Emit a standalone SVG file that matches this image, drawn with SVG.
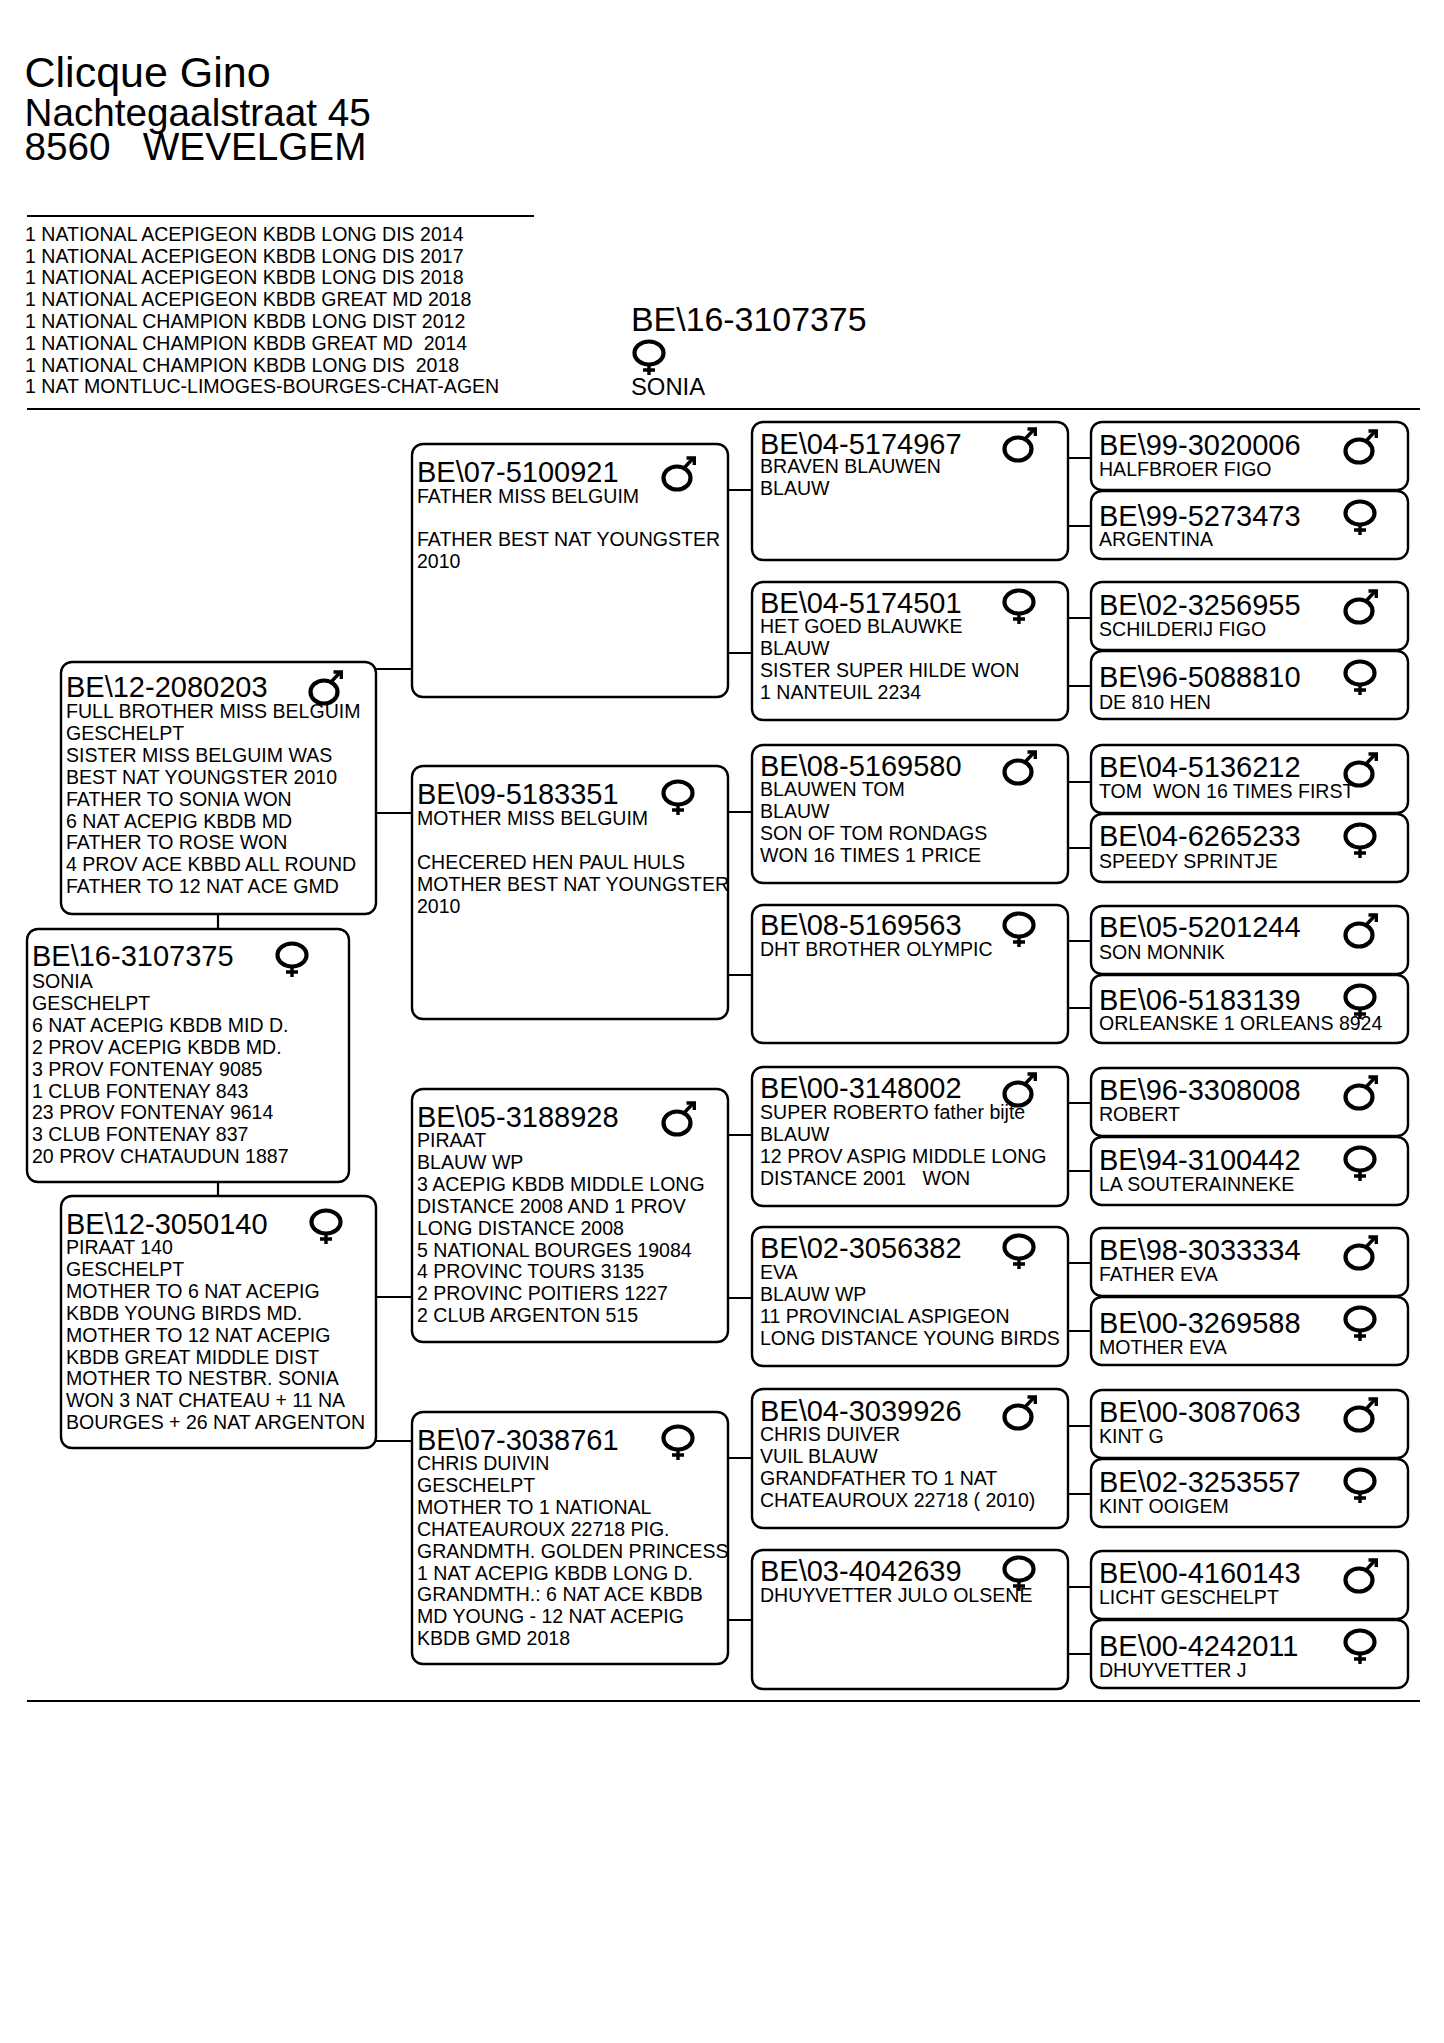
<svg xmlns="http://www.w3.org/2000/svg" width="1444" height="2043" viewBox="0 0 1444 2043">
<style>
text{font-family:"Liberation Sans",Arial,sans-serif;fill:#000;white-space:pre}
.box{fill:#fff;stroke:#000;stroke-width:2.4}
.id{font-size:29px}
.t{font-size:19.55px}
.l{font-size:19.55px}
.rule{stroke:#000;stroke-width:2.2;fill:none}
.c{stroke:#000;stroke-width:2.2;fill:none}
.s{fill:none;stroke:#000;stroke-width:4.2}
.s2{fill:none;stroke:#000;stroke-width:3.4}
</style>
<defs>
<g id="m"><ellipse class="s" rx="13.5" ry="11.5"/><path class="s2" d="M7 -10L16 -19.5"/><path class="s2" d="M9.5 -20H17.3V-13"/></g>
<g id="f"><ellipse class="s" rx="14.5" ry="11.5"/><path class="s2" d="M0 12V22M-6 17H6"/></g>
</defs>
<rect width="1444" height="2043" fill="#fff"/>
<g id="header">
<text x="24.5" y="87" font-size="43">Clicque Gino</text>
<text x="24.5" y="126" font-size="38.7">Nachtegaalstraat 45</text>
<text x="24.5" y="160" font-size="38.7">8560   WEVELGEM</text>
<path class="rule" d="M27 216H534M27 409H1420M27 1701H1420"/>
<text class="l" x="25" y="241">1 NATIONAL ACEPIGEON KBDB LONG DIS 2014</text>
<text class="l" x="25" y="262.5">1 NATIONAL ACEPIGEON KBDB LONG DIS 2017</text>
<text class="l" x="25" y="284">1 NATIONAL ACEPIGEON KBDB LONG DIS 2018</text>
<text class="l" x="25" y="306">1 NATIONAL ACEPIGEON KBDB GREAT MD 2018</text>
<text class="l" x="25" y="328">1 NATIONAL CHAMPION KBDB LONG DIST 2012</text>
<text class="l" x="25" y="350">1 NATIONAL CHAMPION KBDB GREAT MD  2014</text>
<text class="l" x="25" y="372">1 NATIONAL CHAMPION KBDB LONG DIS  2018</text>
<text class="l" x="25" y="393">1 NAT MONTLUC-LIMOGES-BOURGES-CHAT-AGEN</text>
<text x="631" y="331" font-size="33.9">BE\16-3107375</text>
<use href="#f" x="649" y="353"/>
<text x="631" y="395" font-size="23.8">SONIA</text>
</g>
<g id="connectors" class="c">
<path d="M218 915V929M218 1182V1196"/>
<path d="M376 669H412M376 813H412M376 1297H412M376 1441H412"/>
<path d="M727 490H752M727 653H752M727 812H752M727 975H752M727 1135H752M727 1298H752M727 1458H752M727 1620H752"/>
<path d="M1067 458H1091M1067 526H1091M1067 618H1091M1067 686H1091M1067 782H1091M1067 848H1091M1067 941H1091M1067 1008H1091M1067 1103H1091M1067 1171H1091M1067 1263H1091M1067 1331H1091M1067 1426H1091M1067 1494H1091M1067 1587H1091M1067 1654H1091"/>
</g>
<g id="n-subject" transform="translate(27,929)"><rect class="box" width="322" height="253" rx="11"/><text class="id" x="5" y="37">BE\16-3107375</text><use href="#f" x="265" y="26"/><text class="t" y="59"><tspan x="5">SONIA</tspan><tspan x="5" dy="21.9">GESCHELPT</tspan><tspan x="5" dy="21.9">6 NAT ACEPIG KBDB MID D.</tspan><tspan x="5" dy="21.9">2 PROV ACEPIG KBDB MD.</tspan><tspan x="5" dy="21.9">3 PROV FONTENAY 9085</tspan><tspan x="5" dy="21.9">1 CLUB FONTENAY 843</tspan><tspan x="5" dy="21.9">23 PROV FONTENAY 9614</tspan><tspan x="5" dy="21.9">3 CLUB FONTENAY 837</tspan><tspan x="5" dy="21.9">20 PROV CHATAUDUN 1887</tspan></text></g>
<g id="n-sire" transform="translate(61,662)"><rect class="box" width="315" height="252" rx="11"/><text class="id" x="5" y="35">BE\12-2080203</text><use href="#m" x="263" y="30"/><text class="t" y="56"><tspan x="5">FULL BROTHER MISS BELGUIM</tspan><tspan x="5" dy="21.9">GESCHELPT</tspan><tspan x="5" dy="21.9">SISTER MISS BELGUIM WAS</tspan><tspan x="5" dy="21.9">BEST NAT YOUNGSTER 2010</tspan><tspan x="5" dy="21.9">FATHER TO SONIA WON</tspan><tspan x="5" dy="21.9">6 NAT ACEPIG KBDB MD</tspan><tspan x="5" dy="21.9">FATHER TO ROSE WON</tspan><tspan x="5" dy="21.9">4 PROV ACE KBBD ALL ROUND</tspan><tspan x="5" dy="21.9">FATHER TO 12 NAT ACE GMD</tspan></text></g>
<g id="n-dam" transform="translate(61,1196)"><rect class="box" width="315" height="252" rx="11"/><text class="id" x="5" y="38">BE\12-3050140</text><use href="#f" x="265" y="26"/><text class="t" y="58"><tspan x="5">PIRAAT 140</tspan><tspan x="5" dy="21.9">GESCHELPT</tspan><tspan x="5" dy="21.9">MOTHER TO 6 NAT ACEPIG</tspan><tspan x="5" dy="21.9">KBDB YOUNG BIRDS MD.</tspan><tspan x="5" dy="21.9">MOTHER TO 12 NAT ACEPIG</tspan><tspan x="5" dy="21.9">KBDB GREAT MIDDLE DIST</tspan><tspan x="5" dy="21.9">MOTHER TO NESTBR. SONIA</tspan><tspan x="5" dy="21.9">WON 3 NAT CHATEAU + 11 NA</tspan><tspan x="5" dy="21.9">BOURGES + 26 NAT ARGENTON</tspan></text></g>
<g id="n-07-5100921" transform="translate(412,444)"><rect class="box" width="316" height="253" rx="11"/><text class="id" x="5" y="38">BE\07-5100921</text><use href="#m" x="265" y="34"/><text class="t" y="58.5"><tspan x="5">FATHER MISS BELGUIM</tspan><tspan x="5" dy="43.8">FATHER BEST NAT YOUNGSTER</tspan><tspan x="5" dy="21.9">2010</tspan></text></g>
<g id="n-09-5183351" transform="translate(412,766)"><rect class="box" width="316" height="253" rx="11"/><text class="id" x="5" y="38">BE\09-5183351</text><use href="#f" x="266" y="27"/><text class="t" y="59"><tspan x="5">MOTHER MISS BELGUIM</tspan><tspan x="5" dy="43.8">CHECERED HEN PAUL HULS</tspan><tspan x="5" dy="21.9">MOTHER BEST NAT YOUNGSTER</tspan><tspan x="5" dy="21.9">2010</tspan></text></g>
<g id="n-05-3188928" transform="translate(412,1089)"><rect class="box" width="316" height="253" rx="11"/><text class="id" x="5" y="38">BE\05-3188928</text><use href="#m" x="265" y="34"/><text class="t" y="58"><tspan x="5">PIRAAT</tspan><tspan x="5" dy="21.9">BLAUW WP</tspan><tspan x="5" dy="21.9">3 ACEPIG KBDB MIDDLE LONG</tspan><tspan x="5" dy="21.9">DISTANCE 2008 AND 1 PROV</tspan><tspan x="5" dy="21.9">LONG DISTANCE 2008</tspan><tspan x="5" dy="21.9">5 NATIONAL BOURGES 19084</tspan><tspan x="5" dy="21.9">4 PROVINC TOURS 3135</tspan><tspan x="5" dy="21.9">2 PROVINC POITIERS 1227</tspan><tspan x="5" dy="21.9">2 CLUB ARGENTON 515</tspan></text></g>
<g id="n-07-3038761" transform="translate(412,1412)"><rect class="box" width="316" height="252" rx="11"/><text class="id" x="5" y="38">BE\07-3038761</text><use href="#f" x="266" y="26"/><text class="t" y="58"><tspan x="5">CHRIS DUIVIN</tspan><tspan x="5" dy="21.9">GESCHELPT</tspan><tspan x="5" dy="21.9">MOTHER TO 1 NATIONAL</tspan><tspan x="5" dy="21.9">CHATEAUROUX 22718 PIG.</tspan><tspan x="5" dy="21.9">GRANDMTH. GOLDEN PRINCESS</tspan><tspan x="5" dy="21.9">1 NAT ACEPIG KBDB LONG D.</tspan><tspan x="5" dy="21.9">GRANDMTH.: 6 NAT ACE KBDB</tspan><tspan x="5" dy="21.9">MD YOUNG - 12 NAT ACEPIG</tspan><tspan x="5" dy="21.9">KBDB GMD 2018</tspan></text></g>
<g id="n-04-5174967" transform="translate(752,422)"><rect class="box" width="316" height="138" rx="11"/><text class="id" x="8" y="32">BE\04-5174967</text><use href="#m" x="266" y="27"/><text class="t" y="51"><tspan x="8">BRAVEN BLAUWEN</tspan><tspan x="8" dy="21.9">BLAUW</tspan></text></g>
<g id="n-04-5174501" transform="translate(752,582)"><rect class="box" width="316" height="138" rx="11"/><text class="id" x="8" y="31">BE\04-5174501</text><use href="#f" x="267" y="20"/><text class="t" y="51"><tspan x="8">HET GOED BLAUWKE</tspan><tspan x="8" dy="21.9">BLAUW</tspan><tspan x="8" dy="21.9">SISTER SUPER HILDE WON</tspan><tspan x="8" dy="21.9">1 NANTEUIL 2234</tspan></text></g>
<g id="n-08-5169580" transform="translate(752,745)"><rect class="box" width="316" height="138" rx="11"/><text class="id" x="8" y="31">BE\08-5169580</text><use href="#m" x="266" y="27"/><text class="t" y="51"><tspan x="8">BLAUWEN TOM</tspan><tspan x="8" dy="21.9">BLAUW</tspan><tspan x="8" dy="21.9">SON OF TOM RONDAGS</tspan><tspan x="8" dy="21.9">WON 16 TIMES 1 PRICE</tspan></text></g>
<g id="n-08-5169563" transform="translate(752,905)"><rect class="box" width="316" height="138" rx="11"/><text class="id" x="8" y="30">BE\08-5169563</text><use href="#f" x="267" y="20"/><text class="t" y="51"><tspan x="8">DHT BROTHER OLYMPIC</tspan></text></g>
<g id="n-00-3148002" transform="translate(752,1067)"><rect class="box" width="316" height="139" rx="11"/><text class="id" x="8" y="31">BE\00-3148002</text><use href="#m" x="266" y="27"/><text class="t" y="52"><tspan x="8">SUPER ROBERTO father bijte</tspan><tspan x="8" dy="21.9">BLAUW</tspan><tspan x="8" dy="21.9">12 PROV ASPIG MIDDLE LONG</tspan><tspan x="8" dy="21.9">DISTANCE 2001   WON</tspan></text></g>
<g id="n-02-3056382" transform="translate(752,1227)"><rect class="box" width="316" height="139" rx="11"/><text class="id" x="8" y="31">BE\02-3056382</text><use href="#f" x="267" y="20"/><text class="t" y="52"><tspan x="8">EVA</tspan><tspan x="8" dy="21.9">BLAUW WP</tspan><tspan x="8" dy="21.9">11 PROVINCIAL ASPIGEON</tspan><tspan x="8" dy="21.9">LONG DISTANCE YOUNG BIRDS</tspan></text></g>
<g id="n-04-3039926" transform="translate(752,1389)"><rect class="box" width="316" height="139" rx="11"/><text class="id" x="8" y="32">BE\04-3039926</text><use href="#m" x="266" y="28"/><text class="t" y="52"><tspan x="8">CHRIS DUIVER</tspan><tspan x="8" dy="21.9">VUIL BLAUW</tspan><tspan x="8" dy="21.9">GRANDFATHER TO 1 NAT</tspan><tspan x="8" dy="21.9">CHATEAUROUX 22718 ( 2010)</tspan></text></g>
<g id="n-03-4042639" transform="translate(752,1550)"><rect class="box" width="316" height="139" rx="11"/><text class="id" x="8" y="31">BE\03-4042639</text><use href="#f" x="267" y="19"/><text class="t" y="52"><tspan x="8">DHUYVETTER JULO OLSENE</tspan></text></g>
<g id="n-99-3020006" transform="translate(1091,422)"><rect class="box" width="317" height="68" rx="11"/><text class="id" x="8" y="33">BE\99-3020006</text><use href="#m" x="268" y="29"/><text class="t" x="8" y="54">HALFBROER FIGO</text></g>
<g id="n-99-5273473" transform="translate(1091,491)"><rect class="box" width="317" height="68" rx="11"/><text class="id" x="8" y="35">BE\99-5273473</text><use href="#f" x="269" y="22"/><text class="t" x="8" y="55">ARGENTINA</text></g>
<g id="n-02-3256955" transform="translate(1091,582)"><rect class="box" width="317" height="68" rx="11"/><text class="id" x="8" y="33">BE\02-3256955</text><use href="#m" x="268" y="29"/><text class="t" x="8" y="54">SCHILDERIJ FIGO</text></g>
<g id="n-96-5088810" transform="translate(1091,651)"><rect class="box" width="317" height="68" rx="11"/><text class="id" x="8" y="36">BE\96-5088810</text><use href="#f" x="269" y="22"/><text class="t" x="8" y="58">DE 810 HEN</text></g>
<g id="n-04-5136212" transform="translate(1091,745)"><rect class="box" width="317" height="68" rx="11"/><text class="id" x="8" y="32">BE\04-5136212</text><use href="#m" x="268" y="29"/><text class="t" x="8" y="53">TOM  WON 16 TIMES FIRST</text></g>
<g id="n-04-6265233" transform="translate(1091,814)"><rect class="box" width="317" height="68" rx="11"/><text class="id" x="8" y="32">BE\04-6265233</text><use href="#f" x="269" y="22"/><text class="t" x="8" y="54">SPEEDY SPRINTJE</text></g>
<g id="n-05-5201244" transform="translate(1091,906)"><rect class="box" width="317" height="68" rx="11"/><text class="id" x="8" y="31">BE\05-5201244</text><use href="#m" x="268" y="29"/><text class="t" x="8" y="53">SON MONNIK</text></g>
<g id="n-06-5183139" transform="translate(1091,975)"><rect class="box" width="317" height="68" rx="11"/><text class="id" x="8" y="35">BE\06-5183139</text><use href="#f" x="269" y="22"/><text class="t" x="8" y="55">ORLEANSKE 1 ORLEANS 8924</text></g>
<g id="n-96-3308008" transform="translate(1091,1068)"><rect class="box" width="317" height="68" rx="11"/><text class="id" x="8" y="32">BE\96-3308008</text><use href="#m" x="268" y="29"/><text class="t" x="8" y="53">ROBERT</text></g>
<g id="n-94-3100442" transform="translate(1091,1137)"><rect class="box" width="317" height="68" rx="11"/><text class="id" x="8" y="33">BE\94-3100442</text><use href="#f" x="269" y="22"/><text class="t" x="8" y="54">LA SOUTERAINNEKE</text></g>
<g id="n-98-3033334" transform="translate(1091,1228)"><rect class="box" width="317" height="68" rx="11"/><text class="id" x="8" y="32">BE\98-3033334</text><use href="#m" x="268" y="29"/><text class="t" x="8" y="53">FATHER EVA</text></g>
<g id="n-00-3269588" transform="translate(1091,1297)"><rect class="box" width="317" height="68" rx="11"/><text class="id" x="8" y="36">BE\00-3269588</text><use href="#f" x="269" y="22"/><text class="t" x="8" y="56.5">MOTHER EVA</text></g>
<g id="n-00-3087063" transform="translate(1091,1390)"><rect class="box" width="317" height="68" rx="11"/><text class="id" x="8" y="32">BE\00-3087063</text><use href="#m" x="268" y="29"/><text class="t" x="8" y="53">KINT G</text></g>
<g id="n-02-3253557" transform="translate(1091,1459)"><rect class="box" width="317" height="68" rx="11"/><text class="id" x="8" y="33">BE\02-3253557</text><use href="#f" x="269" y="22"/><text class="t" x="8" y="54">KINT OOIGEM</text></g>
<g id="n-00-4160143" transform="translate(1091,1551)"><rect class="box" width="317" height="68" rx="11"/><text class="id" x="8" y="32">BE\00-4160143</text><use href="#m" x="268" y="29"/><text class="t" x="8" y="53">LICHT GESCHELPT</text></g>
<g id="n-00-4242011" transform="translate(1091,1620)"><rect class="box" width="317" height="68" rx="11"/><text class="id" x="8" y="36">BE\00-4242011</text><use href="#f" x="269" y="22"/><text class="t" x="8" y="57">DHUYVETTER J</text></g>
</svg>
